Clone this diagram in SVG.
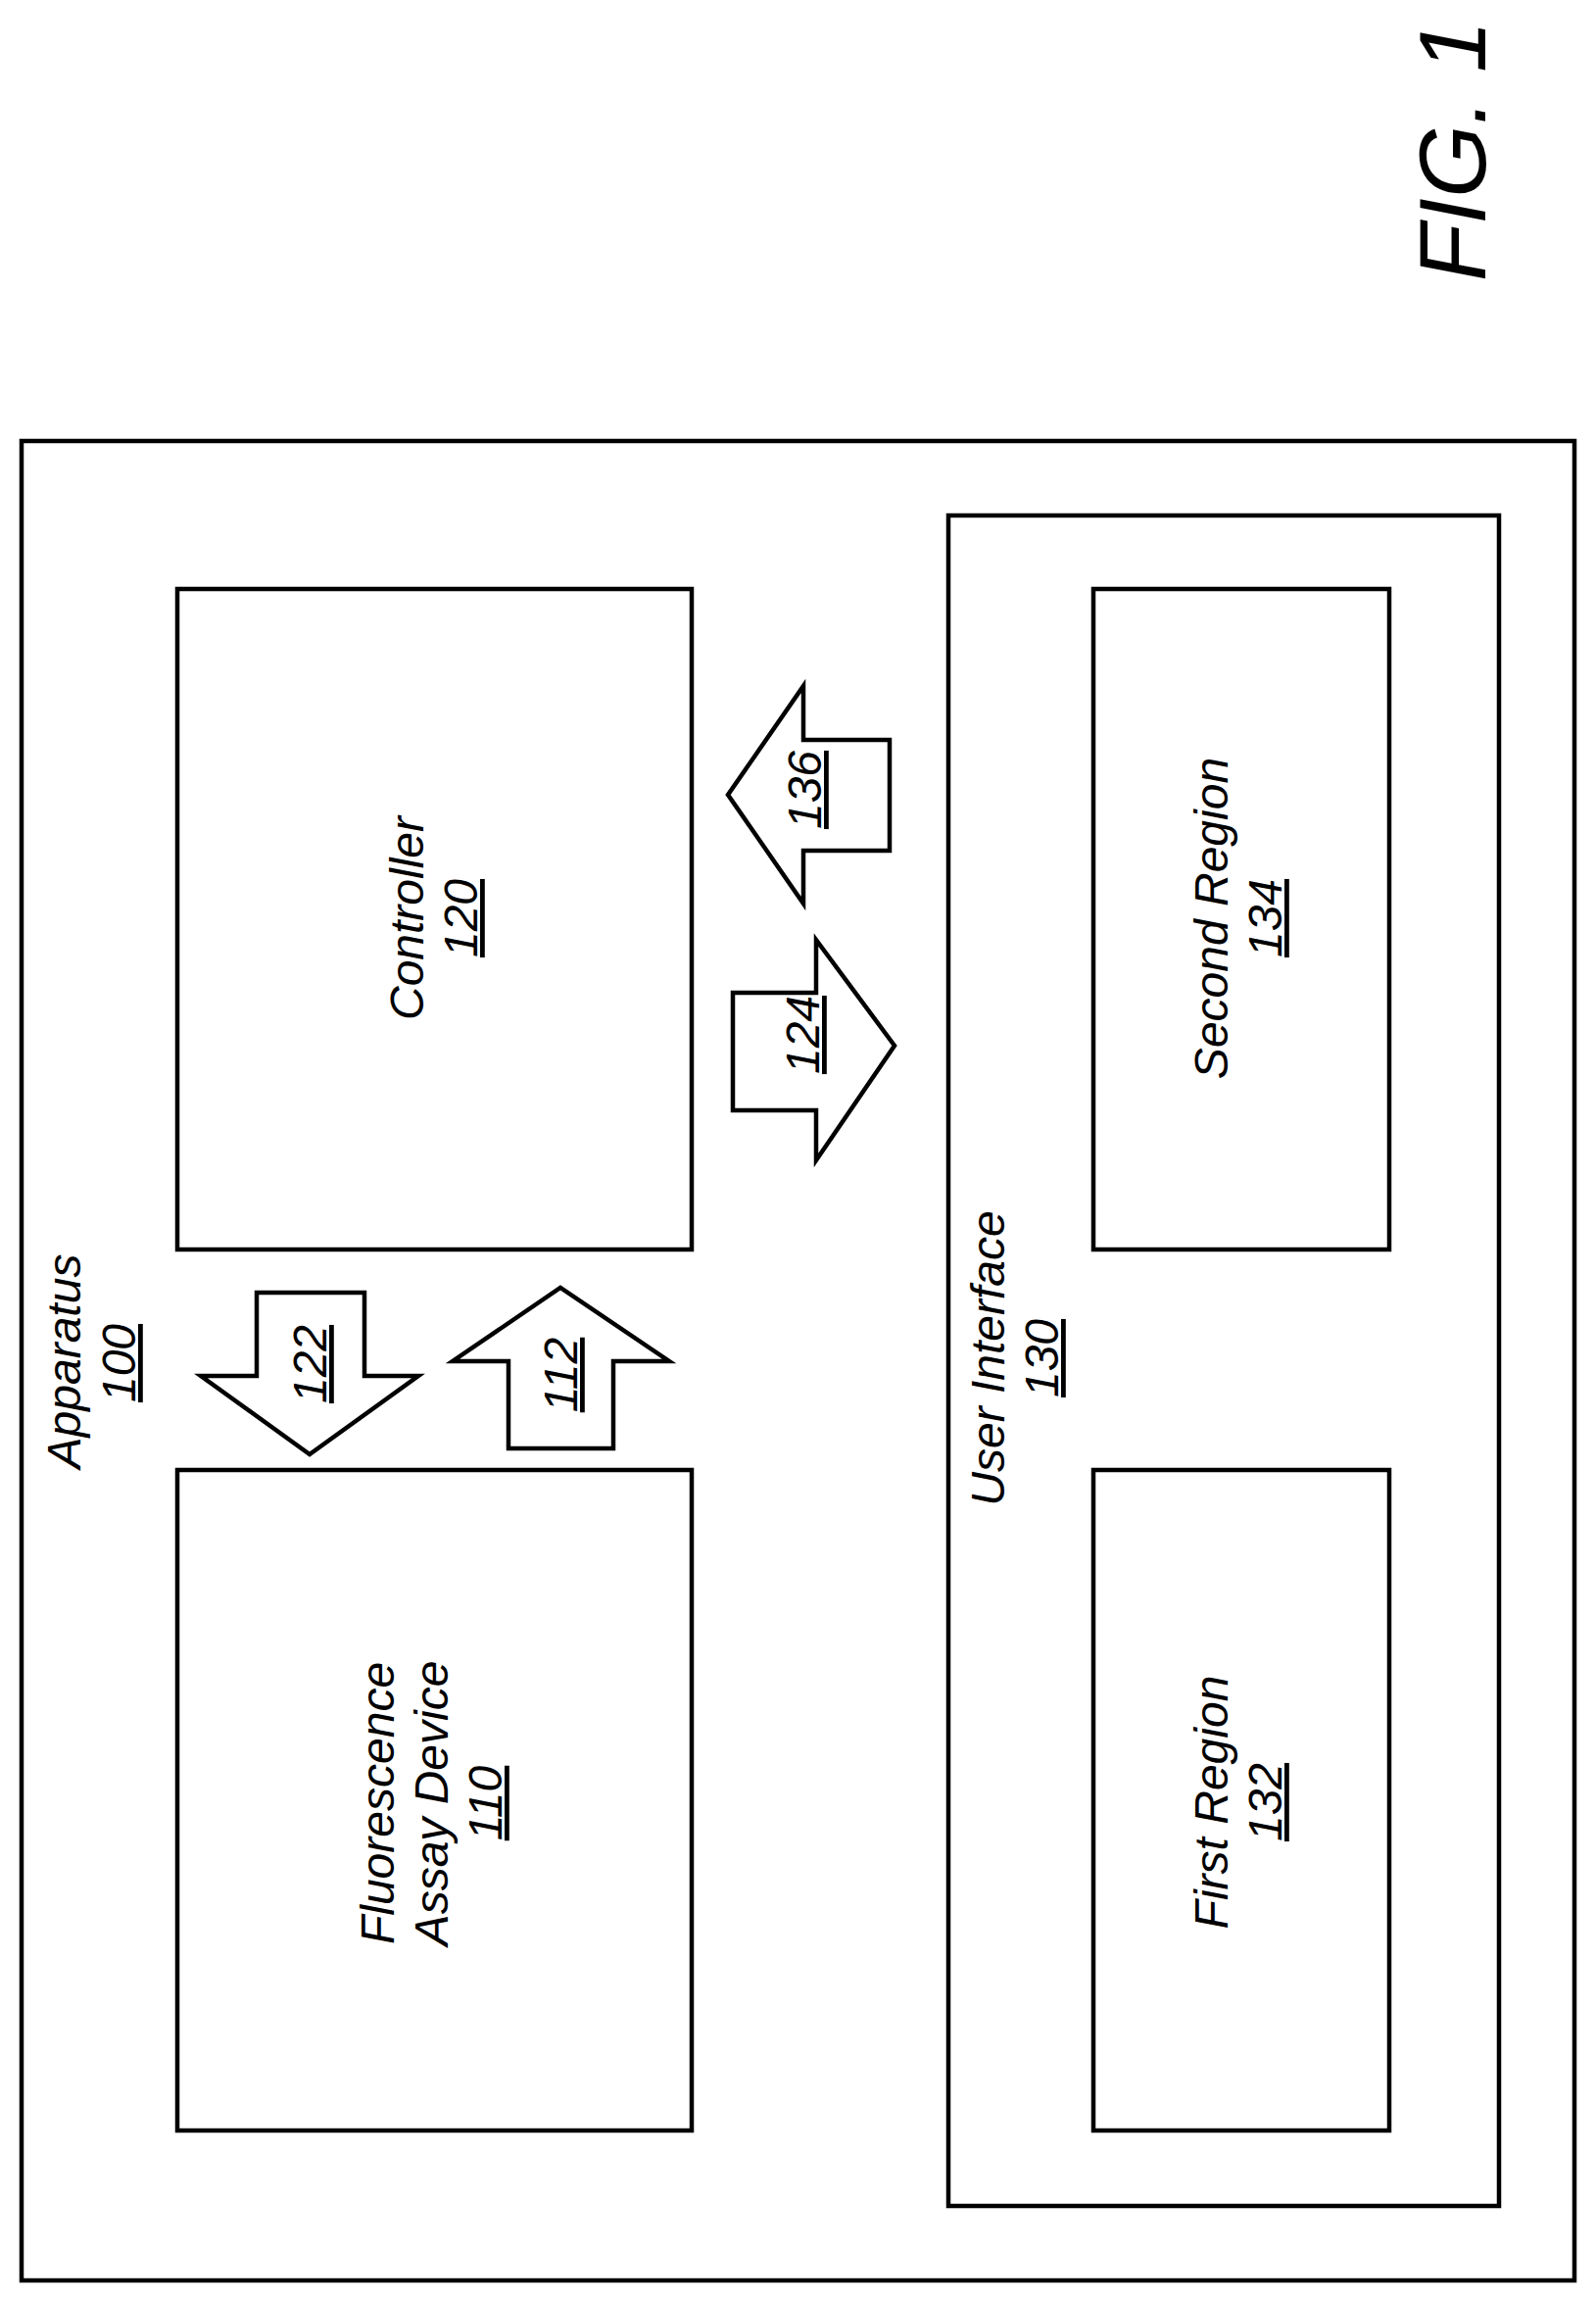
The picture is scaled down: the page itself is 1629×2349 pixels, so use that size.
<svg xmlns="http://www.w3.org/2000/svg" width="1629" height="2349" viewBox="0 0 1629 2349">
<style>
.b{fill:#fff;stroke:#000;stroke-width:4.5}
.a{fill:#fff;stroke:#000;stroke-width:4.5;stroke-linejoin:miter}
text{font-family:"Liberation Sans",Arial,sans-serif;font-style:italic;font-size:48px;text-anchor:middle;fill:#000}
.u{text-decoration:underline}
</style>
<rect width="1629" height="2349" fill="#fff"/>
<g id="fig"><text transform="translate(1516,154) rotate(-90)" style="font-size:96px">FIG. 1</text></g>
<g id="apparatus"><rect class="b" x="22" y="450" width="1585" height="1877"/>
<text transform="translate(82,1389) rotate(-90)">Apparatus</text>
<text class="u" transform="translate(138,1391) rotate(-90)">100</text></g>
<g id="controller"><rect class="b" x="181" y="601" width="525" height="674"/>
<text transform="translate(432,937) rotate(-90)">Controller</text>
<text class="u" transform="translate(487,937) rotate(-90)">120</text></g>
<g id="fluorescence"><rect class="b" x="181" y="1500" width="525" height="674"/>
<text transform="translate(402,1840) rotate(-90)">Fluorescence</text>
<text transform="translate(457,1840) rotate(-90)">Assay Device</text>
<text class="u" transform="translate(512,1840) rotate(-90)">110</text></g>
<g id="ui"><rect class="b" x="968" y="526" width="562" height="1725"/>
<text transform="translate(1025,1386) rotate(-90)">User Interface</text>
<text class="u" transform="translate(1080,1386) rotate(-90)">130</text></g>
<g id="second"><rect class="b" x="1116" y="601" width="302" height="674"/>
<text transform="translate(1253,937) rotate(-90)">Second Region</text>
<text class="u" transform="translate(1308,937) rotate(-90)">134</text></g>
<g id="first"><rect class="b" x="1116" y="1500" width="302" height="674"/>
<text transform="translate(1253,1839) rotate(-90)">First Region</text>
<text class="u" transform="translate(1308,1839) rotate(-90)">132</text></g>
<g id="connectors">
<g id="a122"><polygon class="a" points="262,1319 372,1319 372,1404 427,1404 316,1484 205,1404 262,1404"/>
<text class="u" transform="translate(333,1392) rotate(-90)">122</text></g>
<g id="a112"><polygon class="a" points="519,1478 626,1478 626,1389 683,1389 572,1314 462,1389 519,1389"/>
<text class="u" transform="translate(589,1403) rotate(-90)">112</text></g>
<g id="a124"><polygon class="a" points="748,1013 833,1013 833,959 913,1067 833,1184 833,1133 748,1133"/>
<text class="u" transform="translate(836,1056) rotate(-90)">124</text></g>
<g id="a136"><polygon class="a" points="908,755 820,755 820,700 743,811 820,922 820,868 908,868"/>
<text class="u" transform="translate(838,806) rotate(-90)">136</text></g>
</g>
</svg>
